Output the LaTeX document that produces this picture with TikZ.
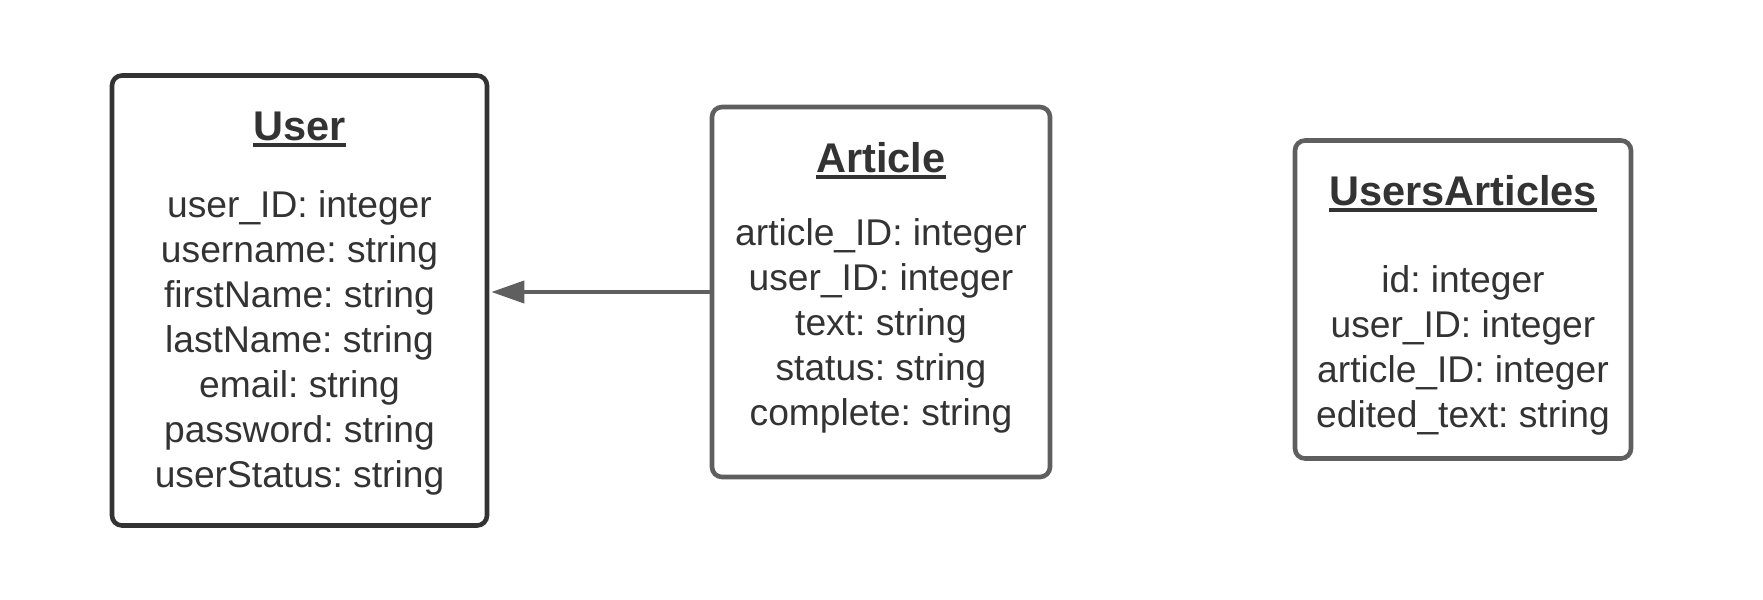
\documentclass[tikz,border=0pt]{standalone}
\usepackage{fontspec}
\setmainfont{Liberation Sans}
\usetikzlibrary{arrows.meta}
\definecolor{dark}{HTML}{333333}
\definecolor{mid}{HTML}{5F5F5F}
\frenchspacing
\begin{document}
\begin{tikzpicture}[x=0.5pt,y=-0.5pt,
  entity/.style={draw, rectangle, rounded corners=5pt, line width=2.3pt, fill=white, inner sep=0pt},
  ttl/.style={anchor=base, inner sep=0pt, text=dark, font=\fontsize{20.75pt}{24pt}\selectfont\bfseries},
  attr/.style={anchor=base, inner sep=0pt, text=dark, font=\fontsize{18.6pt}{22.5pt}\selectfont},
  ul/.style={draw=dark, line width=2pt},
  conn/.style={draw=mid, line width=2pt, -{Triangle[length=16.5pt, width=11pt]}, shorten >=1pt}]
\useasboundingbox (0,0) rectangle (1763,600);

% boxes
\node[entity, draw=dark, minimum width=187.5pt, minimum height=225pt] (user) at (299.5,300.5) {};
\node[entity, draw=mid, minimum width=169pt, minimum height=185pt] (article) at (881,292) {};
\node[entity, draw=mid, minimum width=168pt, minimum height=159pt] (ua) at (1463,299.5) {};

% titles
\node[ttl] (ut) at (299.5,140) {User};
\node[ttl] (at) at (881,172) {Article};
\node[ttl] (uat) at (1463,205) {UsersArticles};
\foreach \t in {ut,at,uat}
  \draw[ul] ([yshift=-2.6pt]\t.base west) -- ([yshift=-2.6pt]\t.base east);

% attributes
\foreach \s [count=\i from 0] in {user\_ID: integer, username: string, firstName: string, lastName: string, email: string, password: string, userStatus: string}
  \node[attr] (u\i) at (299.5,217+45*\i) {\s};
\foreach \s [count=\i from 0] in {article\_ID: integer, user\_ID: integer, text: string, status: string, complete: string}
  \node[attr] (a\i) at (881,245.3+45*\i) {\s};
\foreach \s [count=\i from 0] in {id: integer, user\_ID: integer, article\_ID: integer, edited\_text: string}
  \node[attr] (b\i) at (1463,292.5+45*\i) {\s};

% connector
\draw[conn] (article.west) -- (article.west -| user.east);
\end{tikzpicture}
\end{document}
